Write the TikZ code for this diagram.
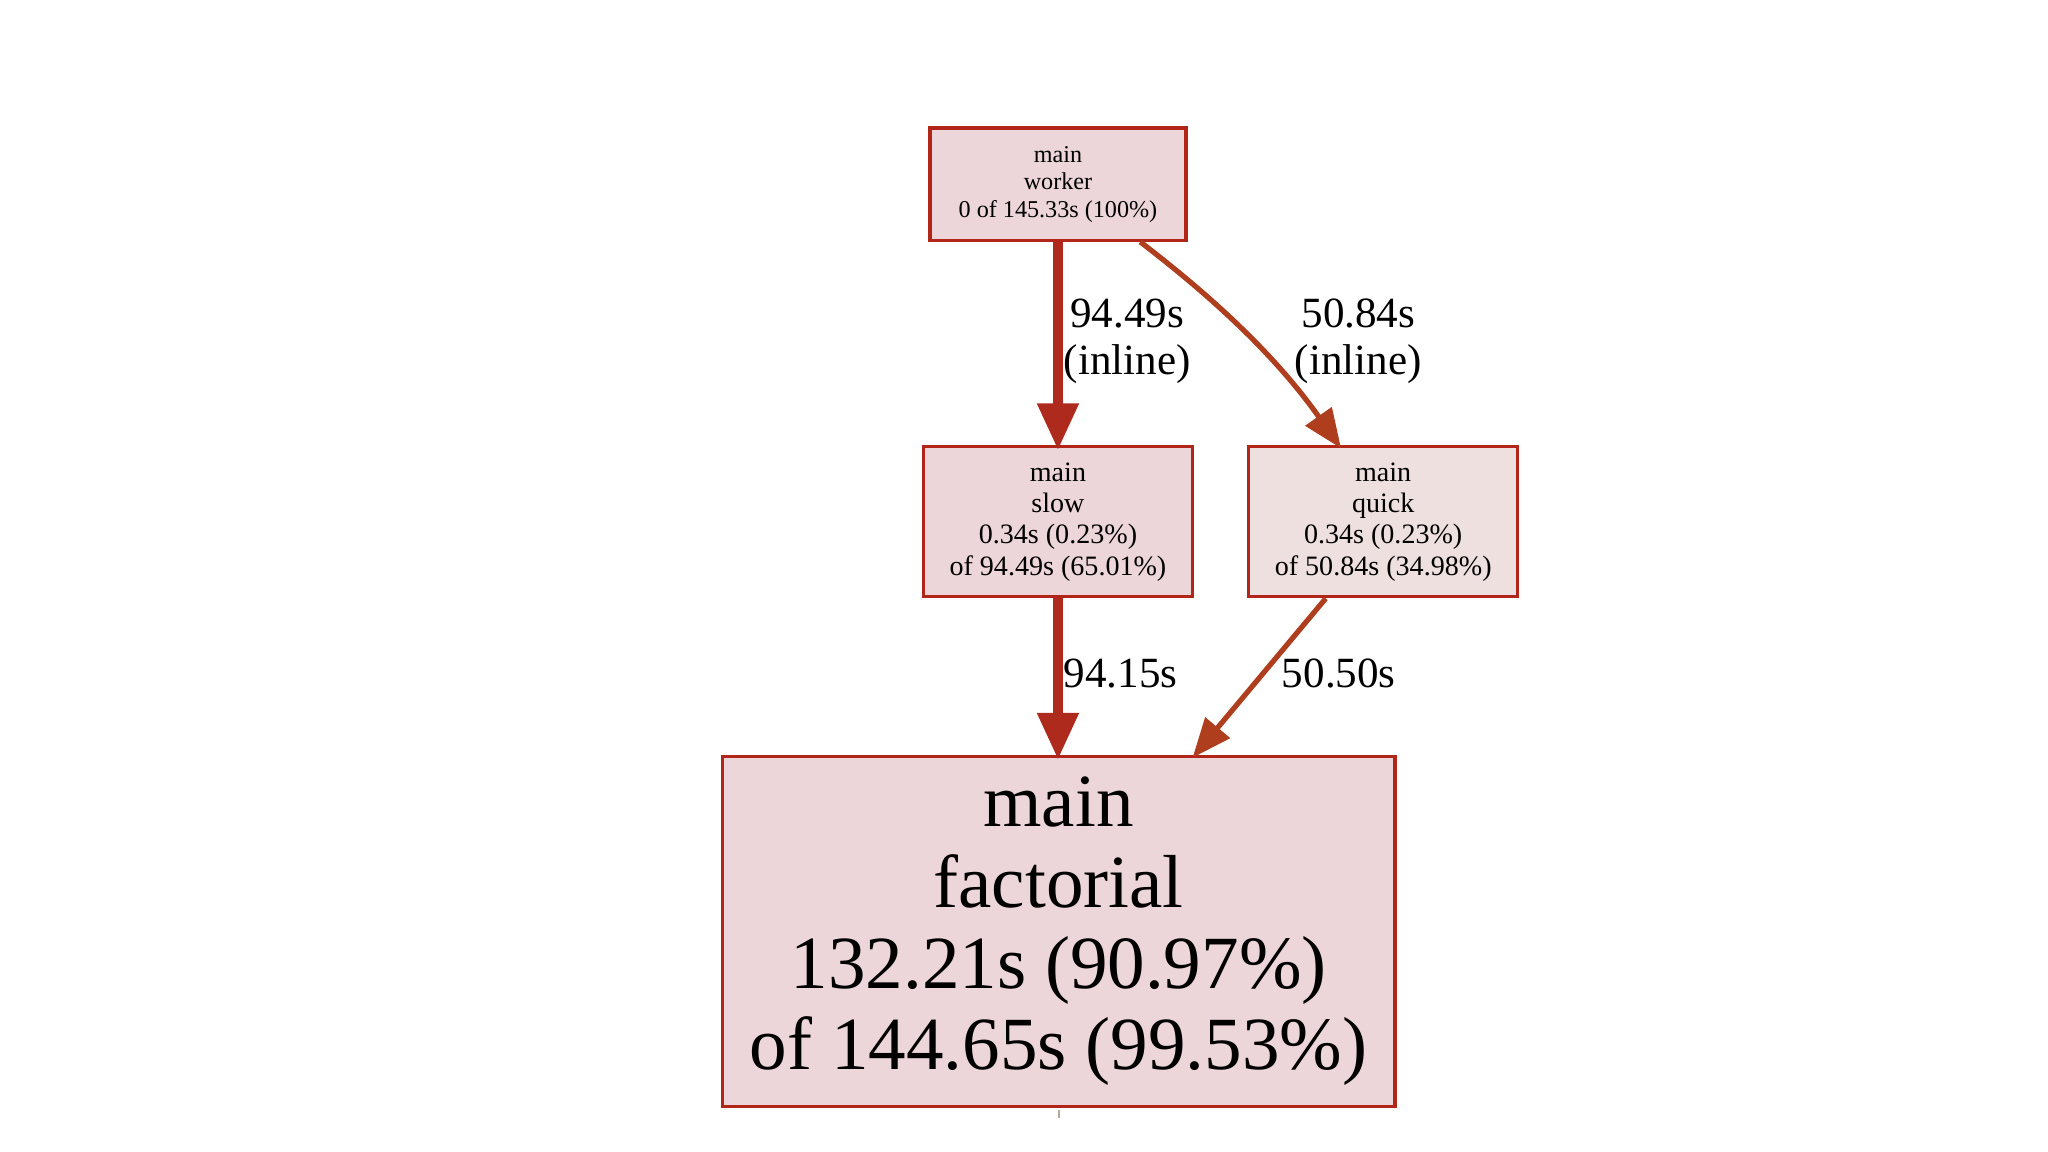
\documentclass[tikz,border=0pt]{standalone}
\usepackage{fontspec}
\setmainfont{Liberation Serif}
\usetikzlibrary{arrows.meta}
\definecolor{boxline}{HTML}{B2261A}
\definecolor{pinkfill}{HTML}{EDD6D9}
\definecolor{greyfill}{HTML}{EDE0DE}
\definecolor{heavy}{HTML}{AE2A1C}
\definecolor{medium}{HTML}{AE3E1E}
\definecolor{tickgrey}{HTML}{B2AA98}
\tikzset{
  fnbox/.style={draw=boxline, line width=2.4pt, inner sep=0pt, align=center},
  heavyedge/.style={draw=heavy, line width=8pt, -{Triangle[length=36pt,width=30pt]}, shorten >=-4pt},
  mediumedge/.style={draw=medium, line width=4pt, -{Triangle[length=30pt,width=24pt]}, shorten >=-3pt},
  elabel/.style={inner sep=0pt, align=center, font=\fontsize{33}{36}\selectfont}
}
\begin{document}
\begin{tikzpicture}[x=1pt,y=-1pt]
\useasboundingbox (0,0) rectangle (1568,882);
\fill[white] (0,0) rectangle (1568,882);
% nodes
\node[fnbox, fill=pinkfill, minimum width=196pt, minimum height=86pt,
      font=\fontsize{18.5}{21}\selectfont] (worker) at (810,141)
  {main\\worker\\0 of 145.33s (100\%)};
\node[fnbox, fill=pinkfill, minimum width=206pt, minimum height=115pt,
      font=\fontsize{21.5}{24}\selectfont] (slow) at (810,399.5)
  {main\\slow\\0.34s (0.23\%)\\of 94.49s (65.01\%)};
\node[fnbox, fill=greyfill, minimum width=206pt, minimum height=115pt,
      font=\fontsize{21.5}{24}\selectfont] (quick) at (1059,399.5)
  {main\\quick\\0.34s (0.23\%)\\of 50.84s (34.98\%)};
\node[fnbox, fill=pinkfill, minimum width=515pt, minimum height=268pt,
      font=\fontsize{57.5}{62}\selectfont] (fact) at (810.5,713)
  {main\\factorial\\132.21s (90.97\%)\\of 144.65s (99.53\%)};
% connectors
\coordinate (wq) at ([xshift=63pt]worker.south);
\coordinate (qn) at ([xshift=-34pt]quick.north);
\coordinate (qs) at ([xshift=-44pt]quick.south);
\coordinate (fn) at ([xshift=104.5pt]fact.north);
\draw[heavyedge] (worker.south) -- (slow.north);
\draw[mediumedge] (wq) .. controls (925,225) and (975,270) .. (qn);
\draw[heavyedge] (slow.south) -- ([xshift=-0.5pt]fact.north);
\draw[mediumedge] (qs) -- (fn);
% tick below factorial
\coordinate (tk) at ([yshift=-8pt]fact.south);
\draw[tickgrey, line width=1.5pt] ([yshift=-1.5pt]fact.south) -- (tk);
% labels
\node[elabel] (l1) at (863,261) {94.49s\\(inline)};
\node[elabel] (l2) at (1040,261) {50.84s\\(inline)};
\node[elabel] (l3) at (858,516) {94.15s};
\node[elabel] (l4) at (1025,516) {50.50s};
\end{tikzpicture}
\end{document}
